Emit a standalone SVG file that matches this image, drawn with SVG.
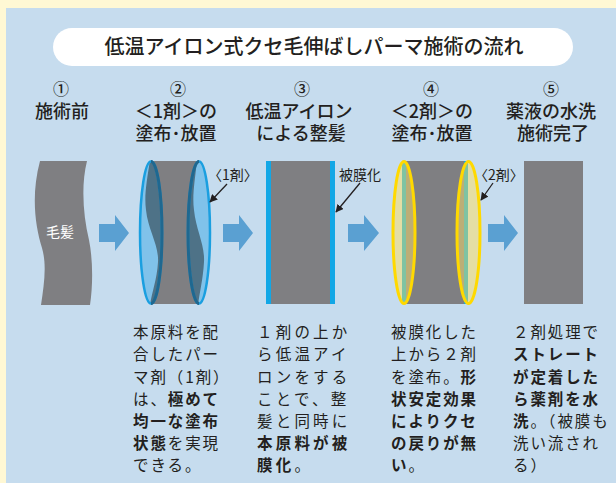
<svg xmlns="http://www.w3.org/2000/svg" width="616" height="483" viewBox="0 0 616 483">
  <style>
    .jp { font-family: "Noto Sans CJK JP", "Noto Sans", sans-serif; fill: #231f20; }
    .head { font-size: 18px; text-anchor: middle; font-weight: 500; }
    .num { font-size: 16px; text-anchor: middle; font-weight: 500; }
    .tag { font-size: 14px; }
    .body { font-size: 15.5px; }
    .b { font-weight: bold; }
    .hair { fill: #7f7f82; }
    .step-arrow { fill: #5aa0d2; }
    .callout { stroke: #231f20; stroke-width: 1.3; fill: none; marker-end: url(#tip); }
  </style>
  <defs>
    <marker id="tip" viewBox="0 0 10 10" refX="9" refY="5" markerWidth="8" markerHeight="8" markerUnits="userSpaceOnUse" orient="auto">
      <path d="M0,0 L10,5 L0,10 Z" fill="#231f20"/>
    </marker>
    <clipPath id="e2l"><ellipse cx="151" cy="232.5" rx="11" ry="71"/></clipPath>
    <clipPath id="e2r"><ellipse cx="199" cy="232.5" rx="11" ry="71"/></clipPath>
    <clipPath id="e4l"><ellipse cx="404" cy="232.5" rx="11" ry="71"/></clipPath>
    <clipPath id="e4r"><ellipse cx="468.5" cy="232.5" rx="11.5" ry="71"/></clipPath>
  </defs>

  <!-- backdrop -->
  <rect width="616" height="483" fill="#fff8d4"/>
  <rect x="6" y="8" width="610" height="475" fill="#c6dcee"/>

  <!-- title -->
  <g id="title">
    <rect x="53" y="28" width="520" height="38" rx="19" fill="#ffffff"/>
    <text class="jp" x="314" y="54" font-size="20" font-weight="500" text-anchor="middle">低温アイロン式クセ毛伸ばしパーマ施術の流れ</text>
  </g>

  <!-- step headings -->
  <g id="head1">
    <text class="jp num" x="61" y="95">①</text>
    <text class="jp head" x="62" y="118">施術前</text>
  </g>
  <g id="head2">
    <text class="jp num" x="178" y="95">②</text>
    <text class="jp head" x="176" y="118">＜1剤＞の</text>
    <text class="jp head" x="176" y="140">塗布･放置</text>
  </g>
  <g id="head3">
    <text class="jp num" x="302" y="95">③</text>
    <text class="jp head" x="299" y="118">低温アイロン</text>
    <text class="jp head" x="301" y="140">による整髪</text>
  </g>
  <g id="head4">
    <text class="jp num" x="431" y="95">④</text>
    <text class="jp head" x="432" y="118">＜2剤＞の</text>
    <text class="jp head" x="432" y="140">塗布･放置</text>
  </g>
  <g id="head5">
    <text class="jp num" x="551" y="95">⑤</text>
    <text class="jp head" x="551" y="118">薬液の水洗</text>
    <text class="jp head" x="553" y="140">施術完了</text>
  </g>

  <!-- step 1: untreated wavy hair -->
  <g id="hair1">
    <path class="hair" d="M40,161 H87 C81,185 83,215 89,240 C93,260 93,285 90,305 H41 C44,285 47,265 42,248 C35,225 31,195 40,161 Z"/>
    <text class="jp" x="60" y="237" font-size="14" text-anchor="middle" style="fill:#ffffff">毛髪</text>
  </g>

  <!-- step 2: agent 1 applied around the hair -->
  <g id="hair2">
    <rect class="hair" x="151" y="161" width="48" height="143"/>
    <ellipse cx="151" cy="232.5" rx="11" ry="71" fill="#80c2ea"/>
    <path clip-path="url(#e2l)" fill="#4e7287" d="M150,160 C147,180 144,195 146,210 C148,230 159,245 158,262 C157,280 151,295 150,306 H170 V160 Z"/>
    <ellipse cx="199" cy="232.5" rx="11" ry="71" fill="#80c2ea"/>
    <path clip-path="url(#e2r)" fill="#4e7287" d="M197,160 C195,180 192,195 194,210 C196,230 205,245 204,262 C203,280 199,295 198,306 H180 V160 Z"/>
    <ellipse cx="151" cy="232.5" rx="11" ry="71" fill="none" stroke="#1a9fe0" stroke-width="2.5"/>
    <path d="M151,161.5 A11,71 0 0 1 151,303.5" fill="none" stroke="#1f6890" stroke-width="3"/>
    <ellipse cx="199" cy="232.5" rx="11" ry="71" fill="none" stroke="#1a9fe0" stroke-width="2.5"/>
    <path d="M199,161.5 A11,71 0 0 0 199,303.5" fill="none" stroke="#1f6890" stroke-width="3"/>
    <text class="jp tag" x="208" y="180">〈1剤〉</text>
  </g>

  <!-- step 3: ironed hair with coating -->
  <g id="hair3">
    <rect class="hair" x="271" y="161" width="59" height="143"/>
    <rect x="266" y="161" width="5" height="143" fill="#12a7e6"/>
    <rect x="330" y="161" width="5" height="143" fill="#12a7e6"/>
    <text class="jp tag" x="339" y="180">被膜化</text>
  </g>

  <!-- step 4: agent 2 applied over the coating -->
  <g id="hair4">
    <rect class="hair" x="406" y="161" width="58" height="143"/>
    <rect x="402" y="161" width="4" height="143" fill="#12a7e6"/>
    <rect x="464" y="161" width="4" height="143" fill="#12a7e6"/>
    <g clip-path="url(#e4l)">
      <rect x="390" y="160" width="30" height="146" fill="#e4dea4"/>
      <rect x="406" y="160" width="14" height="146" fill="#bcae76"/>
      <rect x="402" y="160" width="4" height="146" fill="#7fc3a2"/>
    </g>
    <g clip-path="url(#e4r)">
      <rect x="454" y="160" width="30" height="146" fill="#e4dea4"/>
      <rect x="454" y="160" width="10" height="146" fill="#bcae76"/>
      <rect x="464" y="160" width="4" height="146" fill="#7fc3a2"/>
    </g>
    <ellipse cx="404" cy="232.5" rx="11" ry="71" fill="none" stroke="#ffd900" stroke-width="3"/>
    <ellipse cx="468.5" cy="232.5" rx="11.5" ry="71" fill="none" stroke="#ffd900" stroke-width="3"/>
    <text class="jp tag" x="474" y="180">〈2剤〉</text>
  </g>

  <!-- step 5: straightened hair after rinsing -->
  <g id="hair5">
    <rect class="hair" x="524" y="161" width="59" height="143"/>
  </g>

  <!-- connectors -->
  <g id="connectors">
    <path class="step-arrow" d="M99,224 H115 V215 L129,233 L115,251 V242 H99 Z"/>
    <path class="step-arrow" d="M223,224 H239 V215 L253,233 L239,251 V242 H223 Z"/>
    <path class="step-arrow" d="M348,224 H364 V215 L379,233 L364,251 V242 H348 Z"/>
    <path class="step-arrow" d="M488,224 H504 V215 L518,233 L504,251 V242 H488 Z"/>
    <line class="callout" x1="227" y1="184" x2="210" y2="202"/>
    <line class="callout" x1="360" y1="183" x2="336" y2="212"/>
    <line class="callout" x1="493" y1="183" x2="481" y2="200"/>
  </g>

  <!-- descriptions -->
  <g id="desc2" class="jp body" style="letter-spacing:1.9px">
    <text x="133" y="338">本原料を配</text>
    <text x="133" y="360">合したパー</text>
    <text x="133" y="383">マ剤（1剤）</text>
    <text x="133" y="405">は、<tspan class="b">極めて</tspan></text>
    <text x="133" y="427" class="b">均一な塗布</text>
    <text x="133" y="449"><tspan class="b">状態</tspan>を実現</text>
    <text x="133" y="471">できる。</text>
  </g>
  <g id="desc3" class="jp body" style="letter-spacing:3.2px">
    <text x="257" y="338">１剤の上か</text>
    <text x="257" y="360">ら低温アイ</text>
    <text x="257" y="383">ロンをする</text>
    <text x="257" y="405">ことで、整</text>
    <text x="257" y="427">髪と同時に</text>
    <text x="257" y="449" class="b">本原料が被</text>
    <text x="257" y="471"><tspan class="b">膜化</tspan>。</text>
  </g>
  <g id="desc4" class="jp body" style="letter-spacing:1.9px">
    <text x="391" y="338">被膜化した</text>
    <text x="391" y="360">上から２剤</text>
    <text x="391" y="383">を塗布。<tspan class="b">形</tspan></text>
    <text x="391" y="405" class="b">状安定効果</text>
    <text x="391" y="427" class="b">によりクセ</text>
    <text x="391" y="449" class="b">の戻りが無</text>
    <text x="391" y="471"><tspan class="b">い</tspan>。</text>
  </g>
  <g id="desc5" class="jp body" style="letter-spacing:1.9px">
    <text x="513" y="338">２剤処理で</text>
    <text x="513" y="360" class="b">ストレート</text>
    <text x="513" y="383" class="b">が定着した</text>
    <text x="513" y="405" class="b">ら薬剤を水</text>
    <text x="513" y="427"><tspan class="b">洗</tspan>。（被膜も</text>
    <text x="513" y="449">洗い流され</text>
    <text x="513" y="471">る）</text>
  </g>
</svg>
